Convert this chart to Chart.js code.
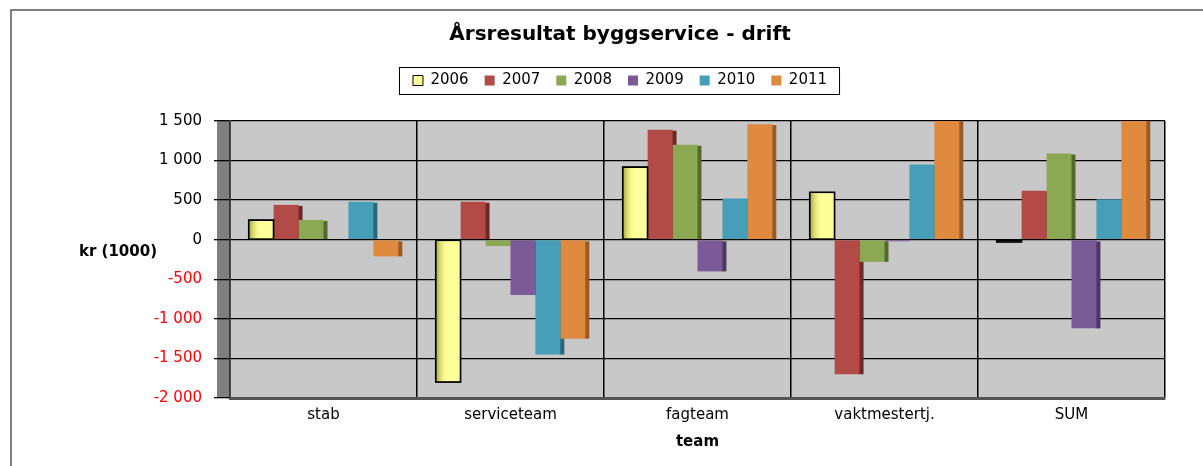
<!DOCTYPE html>
<html>
<head>
<meta charset="utf-8">
<script src="https://cdn.jsdelivr.net/npm/chart.js@4/dist/chart.umd.min.js"></script>
<style>
  body { margin: 0; background: #fff; }
  #wrap { width: 1203px; height: 466px; }
</style>
</head>
<body>
<div id="wrap"><canvas id="myChart" width="1203" height="466"></canvas></div>
<script>
const categories = ['stab', 'serviceteam', 'fagteam', 'vaktmestertj.', 'SUM'];
const years = ['2006', '2007', '2008', '2009', '2010', '2011'];

const y2006 = [250, -1800, 920, 600, -30];
const y2007 = [440, 480, 1390, -1700, 620];
const y2008 = [250, -80, 1200, -280, 1090];
const y2009 = [0, -700, -400, -20, -1120];
const y2010 = [480, -1450, 520, 950, 510];
const y2011 = [-210, -1250, 1460, 1600, 1600];

const yTicks = [1500, 1000, 500, 0, -500, -1000, -1500, -2000];

const seriesValues = [y2006, y2007, y2008, y2009, y2010, y2011];
const faceColors = ['#FFFF99', '#B24A47', '#8DA852', '#7A5A97', '#469EB8', '#E08A40'];
const sideColors = [null, '#6E2927', '#55692C', '#4A3862', '#2A6779', '#9A5A27'];

const FONT = '"DejaVu Sans", "Liberation Sans", Arial, sans-serif';

function formatTick(v) {
  const sign = v < 0 ? '-' : '';
  const a = Math.abs(v);
  if (a < 1000) return sign + a;
  const rest = String(a % 1000).padStart(3, '0');
  return sign + Math.floor(a / 1000) + ' ' + rest;
}

const decor = {
  id: 'decor',
  beforeInit(chart) {
    // extra room under the legend
    const legend = chart.legend;
    if (!legend) return;
    const origFit = legend.fit;
    legend.fit = function () {
      origFit.call(this);
      this.height += 23;
    };
  },
  beforeDraw(chart) {
    const {ctx, chartArea} = chart;
    ctx.save();
    ctx.fillStyle = '#C8C8C8';
    ctx.fillRect(chartArea.left, chartArea.top, chartArea.right - chartArea.left, chartArea.bottom - chartArea.top);
    // left side wall
    ctx.fillStyle = '#7F7F7F';
    ctx.fillRect(chartArea.left - 13, chartArea.top, 13, chartArea.bottom - chartArea.top);
    ctx.restore();
  },
  beforeDatasetsDraw(chart) {
    // dark side faces, drawn first so the next bar covers them
    const {ctx, chartArea} = chart;
    ctx.save();
    ctx.beginPath();
    ctx.rect(chartArea.left, chartArea.top, chartArea.right - chartArea.left + 6, chartArea.bottom - chartArea.top);
    ctx.clip();
    chart.data.datasets.forEach((ds, i) => {
      if (!sideColors[i]) return;
      chart.getDatasetMeta(i).data.forEach((bar) => {
        const top = Math.min(bar.y, bar.base);
        const h = Math.abs(bar.base - bar.y);
        if (h < 0.5) return;
        ctx.fillStyle = sideColors[i];
        ctx.fillRect(bar.x + bar.width / 2 - 1, top + 1, 5, h - 1);
      });
    });
    ctx.restore();
  },
  afterDatasetsDraw(chart) {
    const {ctx, chartArea} = chart;
    ctx.save();
    ctx.beginPath();
    ctx.rect(chartArea.left, chartArea.top, chartArea.right - chartArea.left, chartArea.bottom - chartArea.top);
    ctx.clip();
    chart.getDatasetMeta(0).data.forEach((bar) => {
      const top = Math.min(bar.y, bar.base);
      const h = Math.abs(bar.base - bar.y);
      if (h < 0.5) return;
      const left = bar.x - bar.width / 2;
      // shaded left edge on the yellow bars
      const g = ctx.createLinearGradient(left, 0, left + bar.width * 0.5, 0);
      g.addColorStop(0, 'rgba(140,140,30,0.8)');
      g.addColorStop(1, 'rgba(255,255,153,0)');
      ctx.fillStyle = g;
      ctx.fillRect(left + 1, top + 1, bar.width * 0.5, h - 2);
      ctx.strokeStyle = '#000';
      ctx.lineWidth = 1.5;
      ctx.strokeRect(left, top, bar.width, h);
    });
    ctx.restore();
  },
  afterDraw(chart) {
    const {ctx} = chart;
    ctx.save();
    // outer frame
    ctx.strokeStyle = '#555';
    ctx.lineWidth = 1.5;
    ctx.beginPath();
    ctx.moveTo(11, 470);
    ctx.lineTo(11, 10);
    ctx.lineTo(1210, 10);
    ctx.stroke();
    // legend frame
    const boxes = chart.legend.legendHitBoxes;
    if (boxes && boxes.length) {
      const l = Math.min(...boxes.map(b => b.left)) - 14;
      const r = Math.max(...boxes.map(b => b.left + b.width)) + 12;
      const t = boxes[0].top - 6;
      const b = boxes[0].top + boxes[0].height + 6;
      ctx.strokeStyle = '#000';
      ctx.lineWidth = 1;
      ctx.strokeRect(l + 0.5, t + 0.5, r - l, b - t);
    }
    // horizontal y axis title
    const yz = chart.scales.y.getPixelForValue(0);
    ctx.fillStyle = '#000';
    ctx.font = 'bold 15px ' + FONT;
    ctx.textAlign = 'center';
    ctx.textBaseline = 'middle';
    ctx.fillText('kr (1000)', chart.chartArea.left - 112, yz + 12);
    ctx.restore();
  }
};

function mainEvent() {
  const chartArea = document.querySelector('#myChart');

  const datasets = years.map((year, i) => ({
    label: year,
    data: seriesValues[i],
    backgroundColor: faceColors[i],
    borderColor: i === 0 ? '#000' : faceColors[i],
    borderWidth: i === 0 ? 1 : 0
  }));

  return new Chart(chartArea, {
    type: 'bar',
    data: {
      labels: categories,
      datasets: datasets
    },
    plugins: [decor],
    options: {
      responsive: false,
      animation: false,
      devicePixelRatio: 1,
      layout: { padding: { left: 75, right: 38, top: 12, bottom: 15 } },
      datasets: {
        bar: { categoryPercentage: 0.8, barPercentage: 1.0 }
      },
      plugins: {
        tooltip: { enabled: false },
        title: {
          display: true,
          text: 'Årsresultat byggservice - drift',
          color: '#000',
          font: { family: FONT, size: 20, weight: 'bold' },
          padding: { top: 11, bottom: 10 }
        },
        legend: {
          display: true,
          labels: {
            color: '#000',
            font: { family: FONT, size: 15 },
            boxWidth: 10,
            boxHeight: 10,
            padding: 16
          }
        }
      },
      scales: {
        x: {
          grid: {
            offset: true,
            color: '#000',
            lineWidth: 1.5,
            drawTicks: false
          },
          border: { color: '#555', width: 3 },
          ticks: {
            color: '#000',
            font: { family: FONT, size: 15, lineHeight: 1 },
            padding: 10
          },
          title: {
            display: true,
            text: 'team',
            color: '#000',
            font: { family: FONT, size: 15, weight: 'bold' },
            padding: { top: 0, bottom: 0 }
          }
        },
        y: {
          min: -2000,
          max: 1500,
          afterFit: (scale) => { scale.width = 155; },
          afterBuildTicks: (scale) => {
            scale.ticks = yTicks.map(v => ({ value: v }));
          },
          grid: {
            color: '#000',
            lineWidth: 1.3,
            drawTicks: true,
            tickLength: 16
          },
          border: { color: '#333', width: 1.5 },
          ticks: {
            color: (ctx) => (ctx.tick && ctx.tick.value < 0 ? '#FF0000' : '#000'),
            font: { family: FONT, size: 15 },
            padding: 12,
            callback: (value) => formatTick(value)
          }
        }
      }
    }
  });
}

document.addEventListener('DOMContentLoaded', () => mainEvent());
</script>
</body>
</html>
